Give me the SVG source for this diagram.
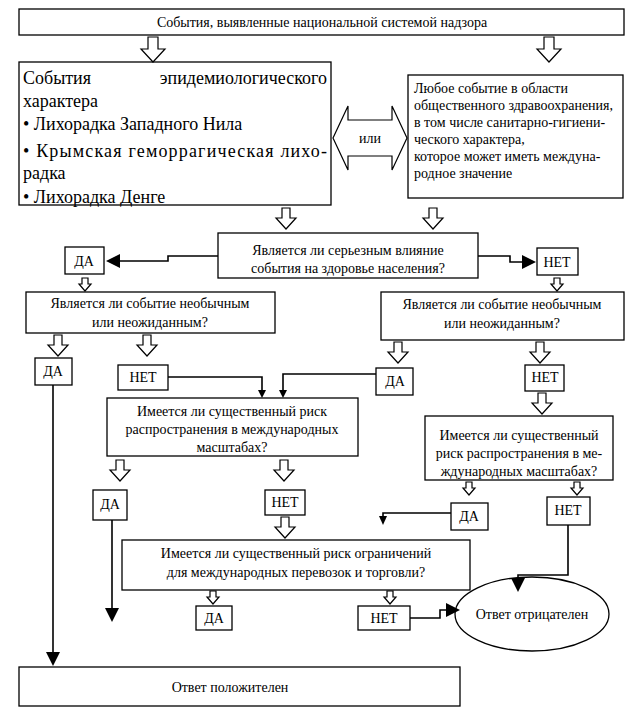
<svg xmlns="http://www.w3.org/2000/svg" width="644" height="726" viewBox="0 0 644 726">
<rect x="0" y="0" width="644" height="726" fill="#fff"/>
<g id="top"><rect x="19" y="9" width="605" height="26" fill="#fff" stroke="#000" stroke-width="1.3"/><text font-family="Liberation Serif" font-size="14" text-anchor="middle" x="322" y="27">События, выявленные национальной системой надзора</text></g>
<g id="epi"><rect x="19" y="62" width="312" height="143" fill="#fff" stroke="#000" stroke-width="1.3"/>
<text font-family="Liberation Serif" font-size="18" x="23" y="84">События</text><text font-family="Liberation Serif" font-size="18" x="327" y="84" text-anchor="end">эпидемиологического</text>
<text font-family="Liberation Serif" font-size="18" x="23" y="107">характера</text>
<text font-family="Liberation Serif" font-size="18" x="23" y="130">• Лихорадка Западного Нила</text>
<text font-family="Liberation Serif" font-size="18" x="23" y="157" textLength="304" lengthAdjust="spacing">• Крымская геморрагическая лихо-</text>
<text font-family="Liberation Serif" font-size="18" x="23" y="179">радка</text>
<text font-family="Liberation Serif" font-size="18" x="23" y="203">• Лихорадка Денге</text></g>
<g id="ili"><path d="M333,138 L348,106 V120 H392 V106 L407,138 L392,170 V156 H348 V170 Z" fill="#fff" stroke="#000" stroke-width="1.2"/><text font-family="Liberation Serif" font-size="14" text-anchor="middle" x="370" y="143">или</text></g>
<g id="any"><rect x="408" y="75" width="215" height="123" fill="#fff" stroke="#000" stroke-width="1.3"/>
<text font-family="Liberation Serif" font-size="14" x="414" y="93">Любое событие в области</text>
<text font-family="Liberation Serif" font-size="14" x="414" y="110">общественного здравоохранения,</text>
<text font-family="Liberation Serif" font-size="14" x="414" y="127">в том числе санитарно-гигиени-</text>
<text font-family="Liberation Serif" font-size="14" x="414" y="144">ческого характера,</text>
<text font-family="Liberation Serif" font-size="14" x="414" y="161">которое может иметь междуна-</text>
<text font-family="Liberation Serif" font-size="14" x="414" y="178">родное значение</text></g>
<g id="q1"><rect x="218" y="233" width="260" height="45" fill="#fff" stroke="#000" stroke-width="1.3"/><text font-family="Liberation Serif" font-size="14" text-anchor="middle" x="348" y="255">Является ли серьезным влияние</text><text font-family="Liberation Serif" font-size="14" text-anchor="middle" x="348" y="273">события на здоровье населения?</text></g>
<g id="da1"><rect x="65" y="247" width="39" height="27" fill="#fff" stroke="#000" stroke-width="1.3"/><text font-family="Liberation Serif" font-size="14" text-anchor="middle" x="84" y="266">ДА</text></g>
<g id="net1"><rect x="537" y="248" width="41" height="27" fill="#fff" stroke="#000" stroke-width="1.3"/><text font-family="Liberation Serif" font-size="14" text-anchor="middle" x="557" y="267">НЕТ</text></g>
<g id="q2l"><rect x="26" y="292" width="249" height="41" fill="#fff" stroke="#000" stroke-width="1.3"/><text font-family="Liberation Serif" font-size="14" text-anchor="middle" x="150" y="308">Является ли событие необычным</text><text font-family="Liberation Serif" font-size="14" text-anchor="middle" x="150" y="327">или неожиданным?</text></g>
<g id="q2r"><rect x="381" y="292" width="243" height="48" fill="#fff" stroke="#000" stroke-width="1.3"/><text font-family="Liberation Serif" font-size="14" text-anchor="middle" x="502" y="309">Является ли событие необычным</text><text font-family="Liberation Serif" font-size="14" text-anchor="middle" x="502" y="328">или неожиданным?</text></g>
<g id="da2l"><rect x="35" y="358" width="37" height="27" fill="#fff" stroke="#000" stroke-width="1.3"/><text font-family="Liberation Serif" font-size="14" text-anchor="middle" x="53" y="376">ДА</text></g>
<g id="net2l"><rect x="118" y="365" width="50" height="25" fill="#fff" stroke="#000" stroke-width="1.3"/><text font-family="Liberation Serif" font-size="14" text-anchor="middle" x="143" y="382">НЕТ</text></g>
<g id="da2r"><rect x="376" y="368" width="37" height="27" fill="#fff" stroke="#000" stroke-width="1.3"/><text font-family="Liberation Serif" font-size="14" text-anchor="middle" x="395" y="386">ДА</text></g>
<g id="net2r"><rect x="525" y="365" width="39" height="26" fill="#fff" stroke="#000" stroke-width="1.3"/><text font-family="Liberation Serif" font-size="14" text-anchor="middle" x="545" y="382">НЕТ</text></g>
<g id="q3"><rect x="107" y="398" width="251" height="58" fill="#fff" stroke="#000" stroke-width="1.3"/><text font-family="Liberation Serif" font-size="14" text-anchor="middle" x="232" y="416">Имеется ли существенный риск</text><text font-family="Liberation Serif" font-size="14" text-anchor="middle" x="232" y="434">распространения в международных</text><text font-family="Liberation Serif" font-size="14" text-anchor="middle" x="232" y="452">масштабах?</text></g>
<g id="q4"><rect x="425" y="416" width="188" height="64" fill="#fff" stroke="#000" stroke-width="1.3"/><text font-family="Liberation Serif" font-size="14" text-anchor="middle" x="519" y="440">Имеется ли существенный</text><text font-family="Liberation Serif" font-size="14" text-anchor="middle" x="519" y="458">риск распространения в ме-</text><text font-family="Liberation Serif" font-size="14" text-anchor="middle" x="519" y="476">ждународных масштабах?</text></g>
<g id="da3"><rect x="93" y="490" width="34" height="30" fill="#fff" stroke="#000" stroke-width="1.3"/><text font-family="Liberation Serif" font-size="14" text-anchor="middle" x="110" y="509">ДА</text></g>
<g id="net3"><rect x="265" y="490" width="40" height="25" fill="#fff" stroke="#000" stroke-width="1.3"/><text font-family="Liberation Serif" font-size="14" text-anchor="middle" x="285" y="507">НЕТ</text></g>
<g id="da4"><rect x="451" y="503" width="37" height="27" fill="#fff" stroke="#000" stroke-width="1.3"/><text font-family="Liberation Serif" font-size="14" text-anchor="middle" x="469" y="521">ДА</text></g>
<g id="net4"><rect x="547" y="497" width="43" height="28" fill="#fff" stroke="#000" stroke-width="1.3"/><text font-family="Liberation Serif" font-size="14" text-anchor="middle" x="568" y="515">НЕТ</text></g>
<g id="q5"><rect x="122" y="540" width="348" height="50" fill="#fff" stroke="#000" stroke-width="1.3"/><text font-family="Liberation Serif" font-size="14" text-anchor="middle" x="296" y="558">Имеется ли существенный риск ограничений</text><text font-family="Liberation Serif" font-size="14" text-anchor="middle" x="296" y="577">для международных перевозок и торговли?</text></g>
<g id="da5"><rect x="196" y="606" width="36" height="24" fill="#fff" stroke="#000" stroke-width="1.3"/><text font-family="Liberation Serif" font-size="14" text-anchor="middle" x="214" y="623">ДА</text></g>
<g id="net5"><rect x="358" y="606" width="52" height="24" fill="#fff" stroke="#000" stroke-width="1.3"/><text font-family="Liberation Serif" font-size="14" text-anchor="middle" x="384" y="623">НЕТ</text></g>
<g id="neg"><ellipse cx="532" cy="614" rx="77" ry="37" fill="#fff" stroke="#000" stroke-width="1.3"/><text font-family="Liberation Serif" font-size="14" text-anchor="middle" x="532" y="619">Ответ отрицателен</text></g>
<g id="pos"><rect x="19" y="667" width="441" height="39" fill="#fff" stroke="#000" stroke-width="1.3"/><text font-family="Liberation Serif" font-size="14" text-anchor="middle" x="230" y="692">Ответ положителен</text></g>
<g id="connectors">
<g fill="#fff" stroke="#000" stroke-width="1.2">
<path d="M148,37 V49 H141 L153,62 L165,49 H158 V37 Z"/>
<path d="M544,37 V49 H537 L549,62 L561,49 H554 V37 Z"/>
<path d="M282,208 V218 H276 L286,229 L296,218 H290 V208 Z"/>
<path d="M429,208 V218 H423 L433,229 L443,218 H437 V208 Z"/>
<path d="M82,278 V284 H79 L85,291 L91,284 H88 V278 Z"/>
<path d="M554,278 V284 H551 L557,291 L563,284 H560 V278 Z"/>
<path d="M54,335 V345 H48 L58,356 L68,345 H62 V335 Z"/>
<path d="M143,335 V345 H137 L147,356 L157,345 H151 V335 Z"/>
<path d="M394,342 V352 H388 L398,363 L408,352 H402 V342 Z"/>
<path d="M536,342 V352 H530 L540,363 L550,352 H544 V342 Z"/>
<path d="M538,393 V403 H532 L542,414 L552,403 H546 V393 Z"/>
<path d="M116,460 V470 H110 L120,481 L130,470 H124 V460 Z"/>
<path d="M280,460 V470 H274 L284,481 L294,470 H288 V460 Z"/>
<path d="M281,517 V527 H275 L285,538 L295,527 H289 V517 Z"/>
<path d="M466,482 V488 H463 L469,495 L475,488 H472 V482 Z"/>
<path d="M574,482 V488 H571 L577,495 L583,488 H580 V482 Z"/>
<path d="M210,591 V597 H207 L213,604 L219,597 H216 V591 Z"/>
<path d="M387,591 V597 H384 L390,604 L396,597 H393 V591 Z"/>
</g>
<g fill="none" stroke="#000" stroke-width="1.6">
<path d="M218,256 H168 V261 H118"/>
<path d="M478,256 H510 V262 H524"/>
<path d="M168,377 H262 V391"/>
<path d="M376,374 H283 V391"/>
<path d="M53,385 V653"/>
<path d="M112,520 V609"/>
<path d="M451,513 H383 V518"/>
<path d="M568,525 V575 H518 V579"/>
<path d="M410,618 H440 V610 H448"/>
</g>
<g fill="#000">
<polygon points="106,261 120,254 120,268"/>
<polygon points="536,262 522,255 522,269"/>
<polygon points="262,398 258,390 266,390"/>
<polygon points="283,398 279,390 287,390"/>
<polygon points="53,666 46,652 60,652"/>
<polygon points="112,622 105,608 119,608"/>
<polygon points="383,525 379,516 387,516"/>
<polygon points="518,592 511,578 525,578"/>
<polygon points="460,610 446,603 446,617"/>
</g>
</g>
</svg>
